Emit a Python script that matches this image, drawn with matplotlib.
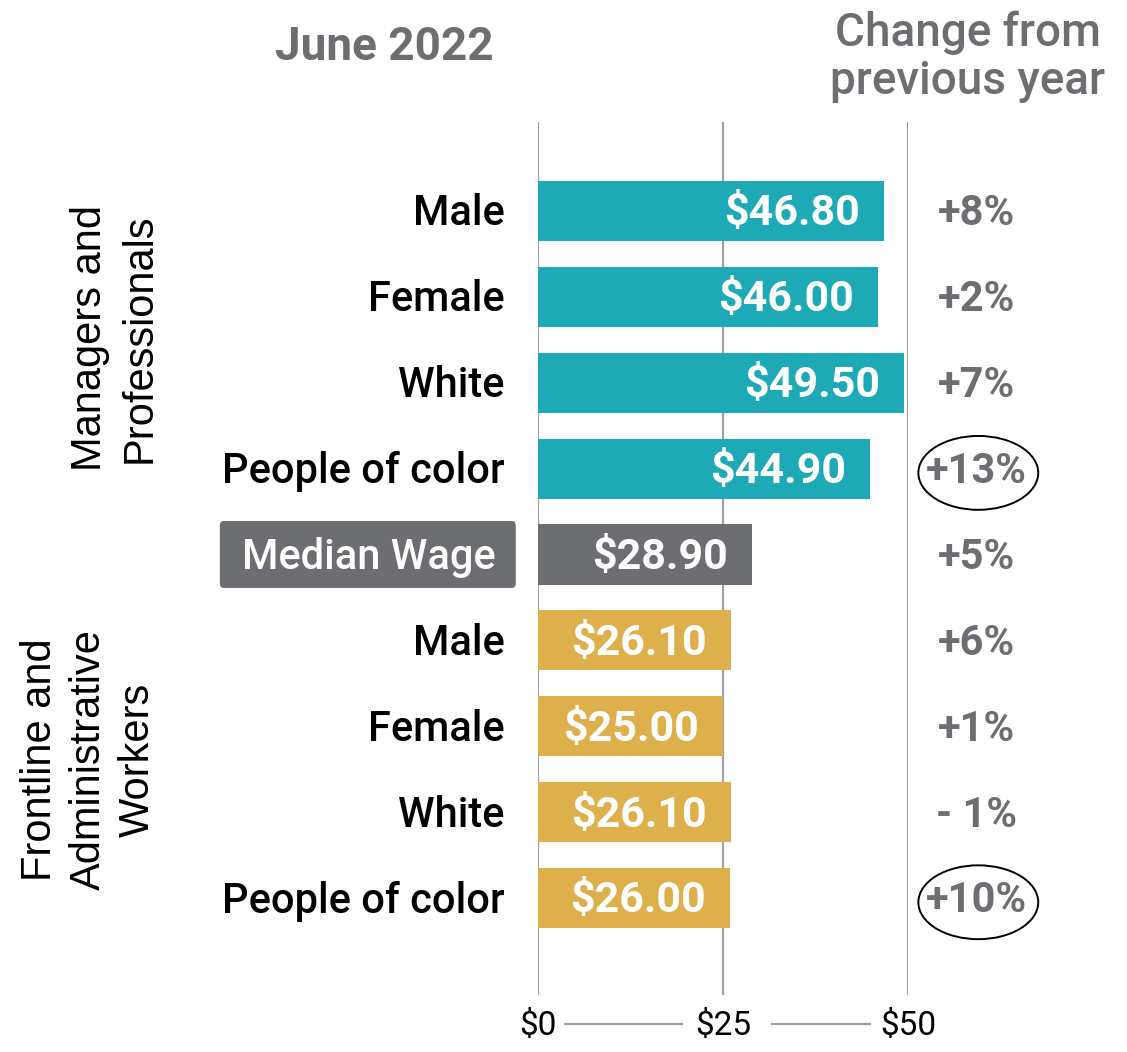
import matplotlib.pyplot as plt
from matplotlib.patches import Ellipse, FancyBboxPatch
import matplotlib.transforms as mtransforms

plt.rcParams['font.family'] = ['Roboto', 'DejaVu Sans']

labels = ["Male", "Female", "White", "People of color", "Median Wage",
          "Male", "Female", "White", "People of color"]
wages = [46.80, 46.00, 49.50, 44.90, 28.90, 26.10, 25.00, 26.10, 26.00]
changes = ["+8%", "+2%", "+7%", "+13%", "+5%", "+6%", "+1%", "- 1%", "+10%"]
groups = ["mgr", "mgr", "mgr", "mgr", "median", "front", "front", "front", "front"]
circled = ["+13%", "+10%"]
ticks = [0, 25, 50]
tick_labels = ["$0", "$25", "$50"]

colors = {"mgr": "#1DA9B6", "median": "#6D6E71", "front": "#DDB04C"}
grey = "#6D6E71"

fig = plt.figure(figsize=(11.27, 10.52), dpi=100)
ax = fig.add_axes([538 / 1127, 57 / 1052, 370 / 1127, 873 / 1052])

rows = list(range(len(labels)))
ax.barh(rows, wages, height=0.70, color=[colors[g] for g in groups], zorder=2)
for x in ticks:
    ax.axvline(x, color="#A0A0A0", lw=1.6, zorder=1)

ax.set_xlim(0, 50)
ax.set_ylim(9.13, -1.036)
ax.axis("off")

# value labels inside bars, category labels on the left, change column on the right
dy = 0.035
for i, (lab, w, ch) in enumerate(zip(labels, wages, changes)):
    ax.text(w - 3.3, i + dy, f"${w:.2f}", color="white", fontsize=31,
            fontweight="bold", ha="right", va="center", zorder=3)
    if groups[i] != "median":
        ax.text(-4.5, i + dy, lab, color="black", fontsize=30, fontweight="medium",
                ha="right", va="center", clip_on=False)
    ax.text(59.2, i + dy, ch, color=grey, fontsize=30, fontweight="bold",
            ha="center", va="center", clip_on=False)
    if ch in circled:
        ax.add_patch(Ellipse((59.5, i + 0.05), 16.2, 0.86, fill=False, ec="black",
                             lw=1.4, clip_on=False))

# median wage label box
mi = labels.index("Median Wage")
ax.add_patch(FancyBboxPatch((-43.0, mi - 0.39), 40.0, 0.78,
                            boxstyle="round,pad=0,rounding_size=0.5",
                            fc=grey, ec="none", clip_on=False,
                            mutation_aspect=0.12))
ax.text(-22.9, mi + dy, "Median Wage", color="white", fontsize=30,
        fontweight="medium", ha="center", va="center", clip_on=False)

# x tick labels with connecting rules below the axis
trans = mtransforms.blended_transform_factory(ax.transData, fig.transFigure)
label_y = (1052 - 1026) / 1052
for x, t in zip(ticks, tick_labels):
    fig.text(x, label_y, t, transform=trans, fontsize=24, ha="center", va="center")
for a, b in [(3.6, 19.4), (31.6, 44.8)]:
    fig.add_artist(plt.Line2D([a, b], [label_y + 0.002] * 2, transform=trans,
                              color="#A0A0A0", lw=1.6))

# headers
fig.text(384 / 1127, 1 - 47 / 1052, "June 2022", color=grey, fontsize=33,
         fontweight="bold", ha="center", va="center")
fig.text(968 / 1127, 1 - 57 / 1052, "Change from\nprevious year", color=grey,
         fontsize=33, fontweight="medium", ha="center", va="center", linespacing=1.1)

# group labels
fig.text(115 / 1127, 1 - 338 / 1052, "Managers and\nProfessionals", rotation=90,
         fontsize=30, family="Liberation Sans", ha="center", va="center",
         linespacing=1.3)
fig.text(89 / 1127, 1 - 760 / 1052, "Frontline and\nAdministrative\nWorkers",
         rotation=90, fontsize=30, family="Liberation Sans", ha="center",
         va="center", linespacing=1.3)

fig.savefig("out.png", dpi=100)
